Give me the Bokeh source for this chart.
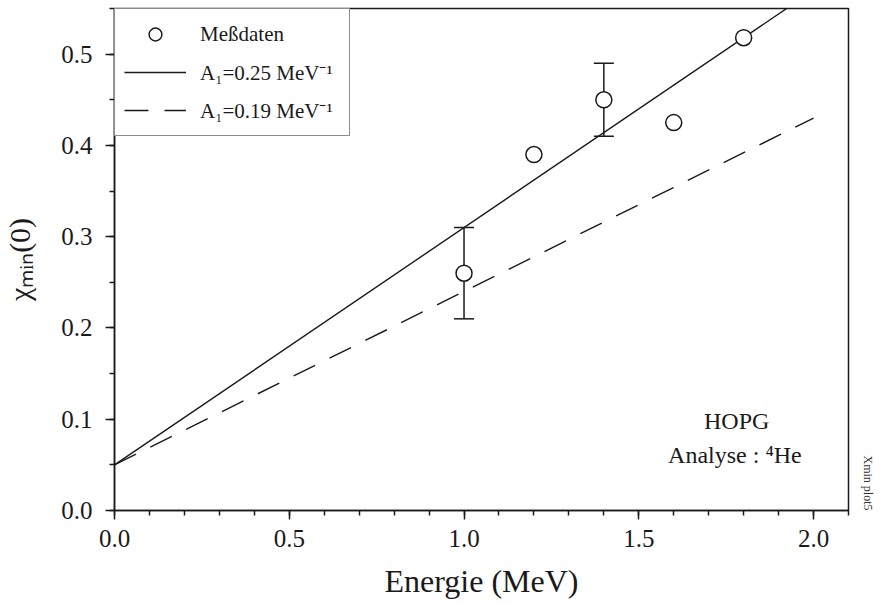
from bokeh.plotting import figure
from bokeh.models import (ColumnDataSource, Whisker, TeeHead, Legend, LegendItem,
                          Label, Title, SingleIntervalTicker, PrintfTickFormatter, Range1d)
from bokeh.embed import file_html
from bokeh.resources import INLINE

# ---- data ----
energy = [1.0, 1.2, 1.4, 1.6, 1.8]
chi_min = [0.26, 0.39, 0.45, 0.425, 0.518]
err_energy = [1.0, 1.4]
err_lower = [0.21, 0.41]
err_upper = [0.31, 0.49]
fit_energy = [0.0, 2.0]
fit_a025 = [0.05, 0.57]
fit_a019 = [0.05, 0.43]
legend_labels = ["Meßdaten", "A\u2081=0.25 MeV\u207b\u00b9", "A\u2081=0.19 MeV\u207b\u00b9"]

FONT = "Liberation Serif"
INK = "#1a1a1a"

p = figure(width=888, height=603, output_backend="svg", toolbar_location=None,
           x_range=Range1d(0, 2.1), y_range=Range1d(0, 0.55),
           min_border_left=112, min_border_right=40, min_border_top=8,
           min_border_bottom=93)
p.background_fill_color = "white"
p.border_fill_color = "white"
p.outline_line_color = INK
p.outline_line_width = 1.5
p.grid.visible = False

p.xaxis.ticker = SingleIntervalTicker(interval=0.5, num_minor_ticks=5)
p.yaxis.ticker = SingleIntervalTicker(interval=0.1, num_minor_ticks=2)
for ax in (p.xaxis[0], p.yaxis[0]):
    ax.formatter = PrintfTickFormatter(format="%.1f")
    ax.axis_line_color = INK
    ax.axis_line_width = 1.5
    ax.major_tick_line_color = INK
    ax.major_tick_line_width = 1.5
    ax.minor_tick_line_color = INK
    ax.minor_tick_line_width = 1.5
    ax.major_tick_in = 0
    ax.major_tick_out = 9
    ax.minor_tick_in = 0
    ax.minor_tick_out = 5
    ax.major_label_text_font = FONT
    ax.major_label_text_font_size = "25px"
    ax.major_label_text_color = INK
    ax.axis_label_text_font = FONT
    ax.axis_label_text_font_style = "normal"
    ax.axis_label_text_color = INK
p.xaxis.major_label_standoff = 10
p.yaxis.major_label_standoff = 13
p.xaxis.axis_label = "Energie (MeV)"
p.xaxis.axis_label_text_font_size = "32px"
p.xaxis.axis_label_standoff = 13
p.yaxis.axis_label = "\u03c7\u2098\u1d62\u2099(0)"
p.yaxis.axis_label_text_font_size = "30px"
p.yaxis.axis_label_standoff = 22

# ---- marks ----
solid = p.line(fit_energy, fit_a025, line_color=INK, line_width=1.4)
dashed = p.line(fit_energy, fit_a019, line_color=INK, line_width=1.4, line_dash="24 16")

err_src = ColumnDataSource(dict(x=err_energy, lower=err_lower, upper=err_upper))
whisk = Whisker(base="x", lower="lower", upper="upper", source=err_src,
                line_color=INK, line_width=1.5,
                upper_head=TeeHead(size=20, line_color=INK, line_width=1.5),
                lower_head=TeeHead(size=20, line_color=INK, line_width=1.5))
p.add_layout(whisk)

pts = p.scatter(energy, chi_min, marker="circle", size=16, fill_color="white",
                line_color=INK, line_width=1.5)

legend = Legend(items=[LegendItem(label=legend_labels[0], renderers=[pts]),
                       LegendItem(label=legend_labels[1], renderers=[solid]),
                       LegendItem(label=legend_labels[2], renderers=[dashed])],
                location="top_left", margin=0, padding=9, spacing=6,
                glyph_width=62, glyph_height=32, label_height=20, label_width=140,
                label_standoff=14, border_line_color=INK, border_line_width=1.5,
                background_fill_color="white", background_fill_alpha=1.0,
                label_text_font=FONT, label_text_font_size="21px",
                label_text_color=INK)
p.add_layout(legend)

# ---- annotations ----
p.add_layout(Label(x=1.78, y=0.0986, text="HOPG", text_align="center",
                   text_baseline="alphabetic", text_font=FONT,
                   text_font_size="24px", text_color=INK))
p.add_layout(Label(x=1.775, y=0.0613, text="Analyse : \u2074He", text_align="center",
                   text_baseline="alphabetic", text_font=FONT,
                   text_font_size="24px", text_color=INK))

# small file tag at the right edge
p.add_layout(Title(text="Xmin plot5", align="right", standoff=24,
                   text_font=FONT, text_font_size="12px", text_font_style="normal",
                   text_color="#333333"), "right")

open("out.html", "w").write(file_html(p, INLINE))
